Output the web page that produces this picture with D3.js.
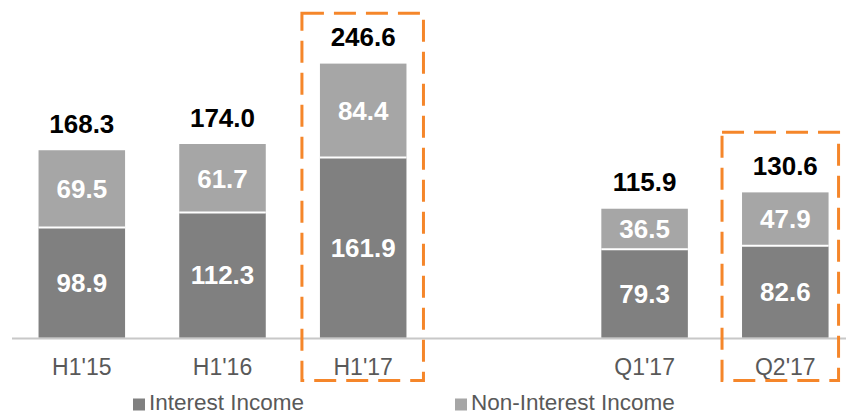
<!DOCTYPE html>
<html><head><meta charset="utf-8">
<script src="https://cdn.jsdelivr.net/npm/d3@7"></script>
<style>body{margin:0;background:#fff;}svg{display:block;font-family:"Liberation Sans",Arial,sans-serif;}</style>
</head><body>
<svg id="c" width="846" height="415"></svg>
<script>
const categories = ["H1'15","H1'16","H1'17","","Q1'17","Q2'17"];
const interestIncome = [98.9,112.3,161.9,null,79.3,82.6];
const nonInterestIncome = [69.5,61.7,84.4,null,36.5,47.9];
const totals = [168.3,174.0,246.6,null,115.9,130.6];
const highlighted = ["H1'17","Q2'17"];
const seriesNames = ["Interest Income","Non-Interest Income"];
const colors = ["#808080","#a6a6a6"];

const svg = d3.select("#c");
const baseY = 337.5;
const x = d3.scaleBand().domain(d3.range(categories.length)).range([10.4,856.7]).paddingInner(0.385).paddingOuter(0.2);
const y = d3.scaleLinear().domain([0,250]).range([baseY, baseY-278]);

// axis line
svg.append("line").attr("x1",12).attr("x2",846).attr("y1",baseY+1).attr("y2",baseY+1)
  .attr("stroke","#c8c8c8").attr("stroke-width",2);

const g = svg.append("g");
categories.forEach((c,i)=>{
  if(interestIncome[i]==null) return;
  const x0 = x(i), w = x.bandwidth();
  const a = interestIncome[i], b = nonInterestIncome[i];
  g.append("rect").attr("x",x0).attr("width",w).attr("y",y(a)).attr("height",y(0)-y(a)).attr("fill",colors[0]);
  g.append("rect").attr("x",x0).attr("width",w).attr("y",y(a+b)).attr("height",y(a)-y(a+b)).attr("fill",colors[1]);
  g.append("line").attr("x1",x0).attr("x2",x0+w).attr("y1",y(a)).attr("y2",y(a)).attr("stroke","#fff").attr("stroke-width",2);
  const cx = x0+w/2;
  g.append("text").attr("x",cx).attr("y",(y(0)+y(a))/2).attr("dy","0.36em").attr("text-anchor","middle")
    .attr("fill","#fff").attr("font-weight","bold").attr("font-size",26).text(a.toFixed(1));
  g.append("text").attr("x",cx).attr("y",(y(a)+y(a+b))/2).attr("dy","0.36em").attr("text-anchor","middle")
    .attr("fill","#fff").attr("font-weight","bold").attr("font-size",26).text(b.toFixed(1));
  g.append("text").attr("x",cx).attr("y",y(totals[i])-17.5).attr("text-anchor","middle")
    .attr("fill","#000").attr("font-weight","bold").attr("font-size",26).text(totals[i].toFixed(1));
  g.append("text").attr("x",cx).attr("y",375).attr("text-anchor","middle")
    .attr("fill","#595959").attr("font-size",23).text(c);
});

// highlight boxes
const boxPad = {"H1'17":[18,17,50],"Q2'17":[20,10,60]};
highlighted.forEach(c=>{
  const i = categories.indexOf(c);
  const p = boxPad[c];
  const x0 = x(i)-p[0], x1 = x(i)+x.bandwidth()+p[1];
  const top = y(totals[i]) - p[2];
  svg.append("rect").attr("x",x0).attr("y",top).attr("width",x1-x0).attr("height",380.5-top)
    .attr("fill","none").attr("stroke","#f5862a").attr("stroke-width",3).attr("stroke-dasharray","22,10");
});

// legend
const leg = [[133,seriesNames[0],colors[0]],[455,seriesNames[1],colors[1]]];
leg.forEach(([lx,t,col])=>{
  svg.append("rect").attr("x",lx).attr("y",398.5).attr("width",12).attr("height",12).attr("fill",col);
  svg.append("text").attr("x",lx+16).attr("y",410).attr("fill","#595959").attr("font-size",22.5).text(t);
});
</script>
</body></html>
